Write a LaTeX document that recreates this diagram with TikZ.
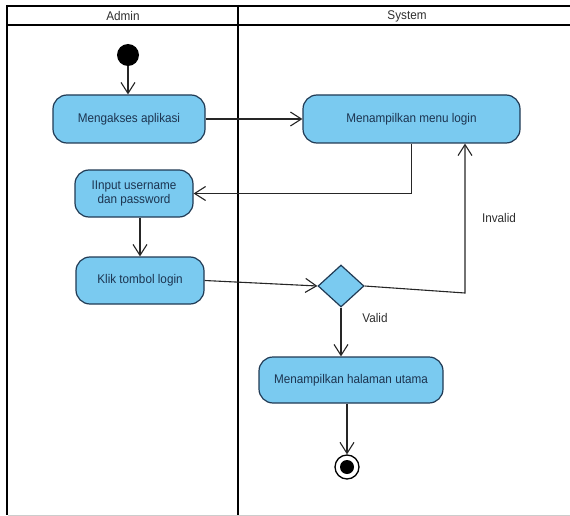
\documentclass[tikz,border=0pt]{standalone}
\usepackage{fontspec}
\setmainfont{Liberation Sans}[FakeStretch=0.93]
\usetikzlibrary{arrows.meta,shapes.geometric}
\definecolor{actfill}{RGB}{122,202,240}
\definecolor{actdraw}{RGB}{32,58,84}
\definecolor{acttext}{RGB}{28,52,80}
\definecolor{labtext}{RGB}{45,45,45}
\tikzset{
  every node/.style={font=\fontsize{12.6}{14}\selectfont},
  act/.style={rectangle, rounded corners=14pt, draw=actdraw, fill=actfill, line width=1.2pt,
    text=acttext, align=center, inner sep=0pt},
  dec/.style={diamond, draw=actdraw, fill=actfill, line width=1.2pt, inner sep=0pt,
    minimum width=46pt, minimum height=42pt},
  flow/.style={draw=black!85, line width=1.1pt, -{Straight Barb[length=11pt,width=14pt]}},
  lane/.style={draw=black, line width=2pt},
  lbl/.style={text=labtext, inner sep=0pt},
}
\begin{document}
\begin{tikzpicture}[x=1pt,y=-1pt]
\useasboundingbox (0,0) rectangle (570,516);
% swimlanes
\draw[lane] (7,6) -- (572,6);
\draw[lane] (7,25) -- (572,25);
\draw[lane] (7,5) -- (7,515);
\draw[lane] (237.5,5) -- (237.5,515);
\draw[black!20, line width=1pt] (8,515.5) -- (570,515.5);
\node[lbl] (hAdmin) at (123,16) {Admin};
\node[lbl] (hSystem) at (407,16) {System};
% nodes
\node[circle, fill=black, minimum size=22pt, inner sep=0pt] (start) at (128,55) {};
\node[act, minimum width=152pt, minimum height=48pt] (a1) at (129,119) {Mengakses aplikasi};
\node[act, minimum width=118pt, minimum height=47pt] (a2) at (134,193.5) {IInput username\\dan password};
\node[act, minimum width=128pt, minimum height=47pt] (a3) at (140,280.5) {Klik tombol login};
\node[act, minimum width=217pt, minimum height=48pt] (a4) at (411.5,119) {Menampilkan menu login};
\node[dec] (d) at (341,286) {};
\node[act, minimum width=184pt, minimum height=46pt] (a5) at (351,380) {Menampilkan halaman utama};
\node[circle, draw=black, line width=1.3pt, fill=white, minimum size=24pt, inner sep=0pt] (final) at (347,467) {};
\node[circle, fill=black, minimum size=14pt, inner sep=0pt] (finalin) at (final.center) {};
\coordinate (bend) at (465,293);
% connectors
\draw[flow] (start) -- (start |- a1.north);
\draw[flow] (a1.east) -- (a4.west);
\draw[flow] (a4.south) |- (a2.east);
\draw[flow] (a3.north |- a2.south) -- (a3.north);
\draw[flow] (a3.east) -- (d.west);
\draw[flow] (d.east) -- (bend) -- (bend |- a4.south);
\draw[flow] (d.south) -- (d.south |- a5.north);
\draw[flow] (final.north |- a5.south) -- (final.north);
% labels
\node[lbl] (linv) at (499,218) {Invalid};
\node[lbl] (lval) at (375,318) {Valid};
\end{tikzpicture}
\end{document}
